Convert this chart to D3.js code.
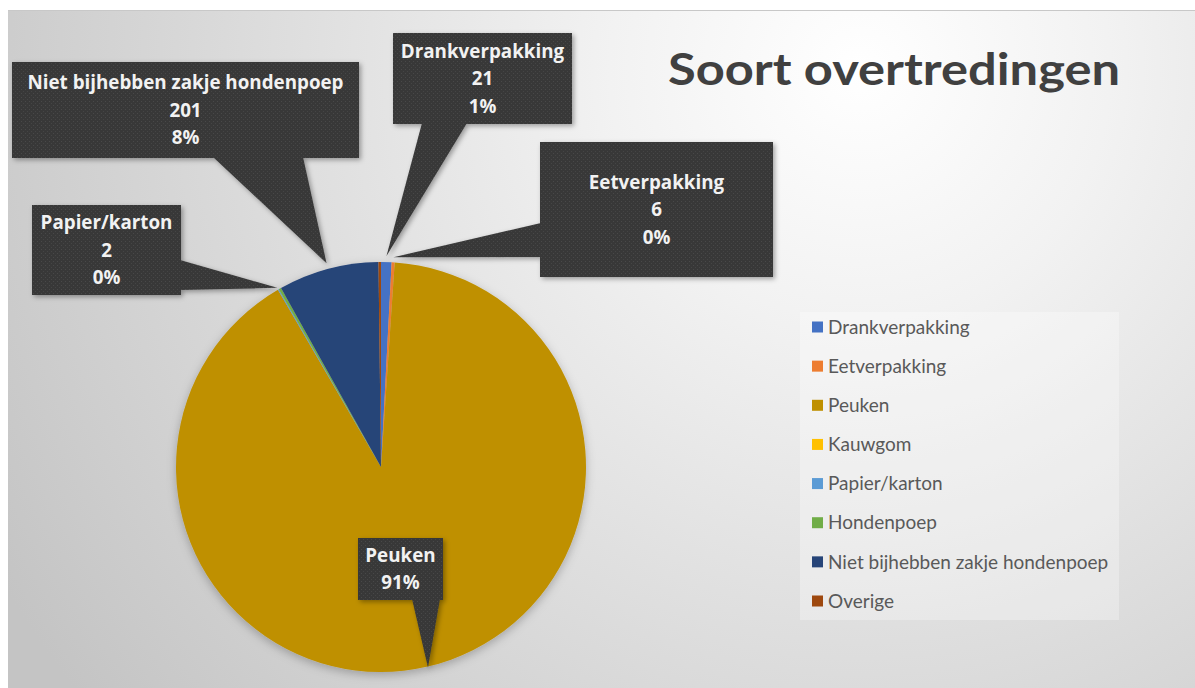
<!DOCTYPE html>
<html>
<head>
<meta charset="utf-8">
<script src="https://cdn.jsdelivr.net/npm/d3@7"></script>
<style>
  html, body { margin: 0; padding: 0; background: #ffffff; }
  svg { display: block; }
</style>
</head>
<body>
<svg id="chart" width="1195" height="688"></svg>
<script>
// ---- data ----
const categories = ["Drankverpakking", "Eetverpakking", "Peuken", "Kauwgom", "Papier/karton", "Hondenpoep", "Niet bijhebben zakje hondenpoep", "Overige"];
const values = [21, 6, 2300, 0, 2, 5, 201, 5];
const sliceColors = ["#4472C4", "#ED7D31", "#BF9000", "#FFC000", "#5B9BD5", "#70AD47", "#264478", "#9E480E"];
const titleText = "Soort overtredingen";
// which slices get a callout, and whether the value is shown
const labelled = ["Niet bijhebben zakje hondenpoep", "Drankverpakking", "Eetverpakking", "Papier/karton", "Peuken"];
const showValue = { "Peuken": false };

// ---- layout (positions kept separate from data) ----
const W = 1195, H = 688;
const cx = 381, cy = 467, R = 205;
const callouts = {
  "Niet bijhebben zakje hondenpoep": { x: 12, y: 62, w: 347, h: 96, side: "bottom", b0: 213, b1: 303, off: 6 },
  "Drankverpakking": { x: 393, y: 33, w: 179, h: 91, side: "bottom", b0: 422, b1: 467, off: 6 },
  "Eetverpakking": { x: 540, y: 142, w: 233, h: 135, side: "left", b0: 223, b1: 257, off: 5 },
  "Papier/karton": { x: 32, y: 205, w: 149, h: 90, side: "right", b0: 260, b1: 290, off: 2 },
  "Peuken": { x: 358, y: 538, w: 85, h: 62, side: "bottom", b0: 412, b1: 440, off: 1 }
};

const svg = d3.select("#chart");
const defs = svg.append("defs");

// background gradient
const bg = defs.append("radialGradient").attr("id", "bgGrad")
  .attr("gradientUnits", "userSpaceOnUse")
  .attr("cx", 860).attr("cy", 70).attr("r", 1000);
bg.append("stop").attr("offset", "0%").attr("stop-color", "#ffffff");
bg.append("stop").attr("offset", "25%").attr("stop-color", "#f2f2f2");
bg.append("stop").attr("offset", "70%").attr("stop-color", "#d6d6d6");
bg.append("stop").attr("offset", "100%").attr("stop-color", "#c4c4c4");

// dotted pattern for callouts
const pat = defs.append("pattern").attr("id", "dots")
  .attr("patternUnits", "userSpaceOnUse").attr("width", 4).attr("height", 4);
pat.append("rect").attr("width", 4).attr("height", 4).attr("fill", "#383838");
pat.append("rect").attr("x", 1).attr("y", 1).attr("width", 1).attr("height", 1).attr("fill", "#4a4a4a");
pat.append("rect").attr("x", 3).attr("y", 3).attr("width", 1).attr("height", 1).attr("fill", "#454545");

// shadows
const sh = defs.append("filter").attr("id", "shadow").attr("x", "-20%").attr("y", "-20%").attr("width", "140%").attr("height", "140%");
sh.append("feDropShadow").attr("dx", 2).attr("dy", 2).attr("stdDeviation", 2.5).attr("flood-color", "#000").attr("flood-opacity", 0.35);
const psh = defs.append("filter").attr("id", "pieShadow").attr("x", "-20%").attr("y", "-20%").attr("width", "140%").attr("height", "140%");
psh.append("feDropShadow").attr("dx", 0).attr("dy", 3).attr("stdDeviation", 5).attr("flood-color", "#000").attr("flood-opacity", 0.25);

// page + chart area
svg.append("rect").attr("width", W).attr("height", H).attr("fill", "#ffffff");
svg.append("rect").attr("x", 8).attr("y", 10).attr("width", W - 8).attr("height", H - 10).attr("fill", "url(#bgGrad)");
svg.append("line").attr("x1", 8).attr("x2", W).attr("y1", 10.5).attr("y2", 10.5).attr("stroke", "#c8c8c8").attr("stroke-width", 1);

// title
svg.append("text").attr("x", 894).attr("y", 85).attr("text-anchor", "middle")
  .attr("font-family", "Lato, 'Open Sans', sans-serif").attr("font-weight", 700)
  .attr("font-size", 44).attr("fill", "#404040")
  .attr("textLength", 452).attr("lengthAdjust", "spacingAndGlyphs")
  .text(titleText);

// pie
const data = categories.map((c, i) => ({ name: c, value: values[i], color: sliceColors[i] }));
const total = d3.sum(values);
const pie = d3.pie().value(d => d.value).sort(null);
const arcs = pie(data);
const arc = d3.arc().innerRadius(0).outerRadius(R);

const pg = svg.append("g").attr("transform", `translate(${cx},${cy})`).attr("filter", "url(#pieShadow)");
pg.selectAll("path").data(arcs).join("path")
  .attr("d", arc).attr("fill", d => d.data.color);

// callouts
const pct = d3.format(".0%");
const cg = svg.append("g");
arcs.filter(a => labelled.includes(a.data.name)).forEach(a => {
  const c = callouts[a.data.name];
  const tipArc = d3.arc().innerRadius(R + c.off).outerRadius(R + c.off);
  const [tx, ty] = tipArc.centroid(a);
  const tip = [cx + tx, cy + ty];
  let base;
  if (c.side === "bottom") base = [[c.b0, c.y + c.h - 1], [c.b1, c.y + c.h - 1]];
  else if (c.side === "left") base = [[c.x + 1, c.b0], [c.x + 1, c.b1]];
  else base = [[c.x + c.w - 1, c.b0], [c.x + c.w - 1, c.b1]];
  const g = cg.append("g").attr("filter", "url(#shadow)");
  g.append("rect").attr("x", c.x).attr("y", c.y).attr("width", c.w).attr("height", c.h).attr("fill", "url(#dots)");
  g.append("path").attr("d", d3.line()([base[0], tip, base[1]]) + "Z").attr("fill", "url(#dots)");
  const lines = [a.data.name];
  if (showValue[a.data.name] !== false) lines.push(String(a.data.value));
  lines.push(pct(a.data.value / total));
  const lh = 27.5;
  const y0 = c.y + c.h / 2 - (lines.length - 1) * lh / 2;
  lines.forEach((t, i) => {
    cg.append("text").attr("x", c.x + c.w / 2).attr("y", y0 + i * lh).attr("dy", "0.35em")
      .attr("text-anchor", "middle").attr("font-family", "'Open Sans', Lato, sans-serif")
      .attr("font-weight", 700).attr("font-size", 18.8).attr("fill", "#f2f2f2").text(t);
  });
});

// legend
const lgX = 800, lgY = 312, lgW = 319, lgH = 308;
svg.append("rect").attr("x", lgX).attr("y", lgY).attr("width", lgW).attr("height", lgH)
  .attr("fill", "#ffffff").attr("fill-opacity", 0.3);
const lg = svg.append("g");
const ly = d3.scalePoint().domain(categories).range([327, 601]);
const items = lg.selectAll("g").data(data).join("g")
  .attr("transform", d => `translate(812,${ly(d.name)})`);
items.append("rect").attr("x", 0).attr("y", -5.5).attr("width", 11).attr("height", 11).attr("fill", d => d.color);
items.append("text").attr("x", 16).attr("y", 0).attr("dy", "0.35em")
  .attr("font-family", "Lato, 'Open Sans', sans-serif").attr("font-size", 19).attr("fill", "#595959")
  .text(d => d.name);
</script>
</body>
</html>
